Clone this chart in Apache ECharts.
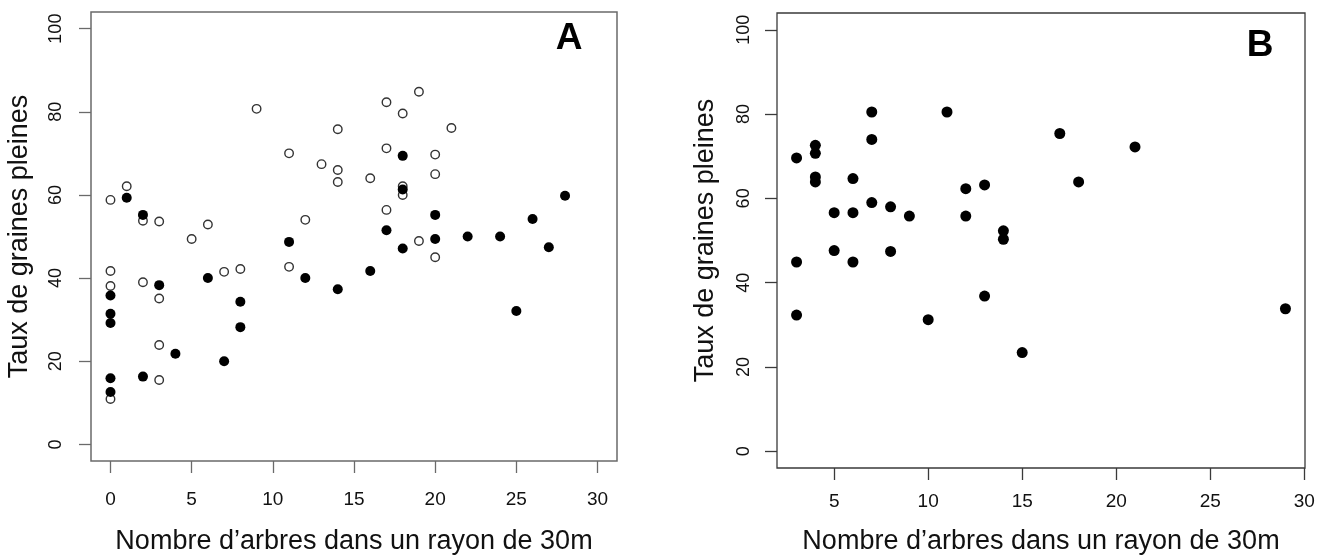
<!DOCTYPE html>
<html>
<head>
<meta charset="utf-8">
<script src="https://cdn.jsdelivr.net/npm/echarts@6/dist/echarts.min.js"></script>
<style>
  html, body { margin: 0; padding: 0; background: #fff; }
  #chart { width: 1327px; height: 560px; }
</style>
</head>
<body>
<div id="chart"></div>
<script>
// Panel A: open circles
const aOpenX = [0, 0, 0, 0, 1, 2, 2, 3, 3, 3, 3, 5, 6, 7, 8, 9, 11, 11, 12, 13, 14, 14, 14, 16, 17, 17, 17, 18, 18, 18, 19, 19, 20, 20, 20, 21];
const aOpenY = [58.8, 41.7, 38.1, 10.9, 62.1, 53.8, 39.0, 53.6, 35.1, 23.9, 15.5, 49.4, 52.9, 41.5, 42.2, 80.7, 70.0, 42.7, 54.0, 67.4, 75.8, 66.0, 63.1, 64.0, 82.3, 71.2, 56.4, 79.6, 62.1, 60.0, 84.8, 48.9, 69.7, 65.0, 45.0, 76.1];
// Panel A: filled circles
const aFilledX = [0, 0, 0, 0, 0, 1, 2, 2, 3, 4, 6, 7, 8, 8, 11, 12, 14, 16, 17, 18, 18, 18, 20, 20, 22, 24, 25, 26, 27, 28];
const aFilledY = [35.8, 31.4, 29.2, 15.9, 12.6, 59.3, 55.2, 16.3, 38.3, 21.8, 40.0, 20.0, 34.3, 28.2, 48.7, 40.0, 37.3, 41.7, 51.5, 69.4, 61.3, 47.1, 55.2, 49.4, 50.0, 50.0, 32.1, 54.2, 47.4, 59.8];
// Panel B: filled circles
const bX = [3, 3, 3, 4, 4, 4, 4, 5, 5, 6, 6, 6, 7, 7, 7, 8, 8, 9, 10, 11, 12, 12, 13, 13, 14, 14, 15, 17, 18, 21, 29];
const bY = [69.6, 44.9, 32.3, 72.6, 70.7, 65.1, 63.9, 56.6, 47.6, 64.7, 56.6, 44.9, 80.5, 74.0, 59.0, 58.0, 47.4, 55.8, 31.2, 80.5, 62.3, 55.8, 63.2, 36.8, 52.3, 50.3, 23.4, 75.4, 63.9, 72.2, 33.8];

// Tick labels
const aXTicks = [0, 5, 10, 15, 20, 25, 30];
const bXTicks = [5, 10, 15, 20, 25, 30];
const yTicks = [0, 20, 40, 60, 80, 100];

const xTitle = 'Nombre d\u2019arbres dans un rayon de 30m';
const yTitle = 'Taux de graines pleines';

const FONT = "'Liberation Sans', Arial, sans-serif";
const pairs = (xs, ys) => xs.map((x, i) => [x, ys[i]]);

function xAxisCfg(gridIndex, min, max, ticks, color, tickLen, margin, nameGap) {
  return {
    type: 'value', gridIndex, min, max, position: 'bottom',
    axisLine: { show: false, onZero: false },
    splitLine: { show: false },
    axisTick: { show: true, inside: false, customValues: ticks, length: tickLen, lineStyle: { color, width: 1.3 } },
    axisLabel: { customValues: ticks, margin, color: '#111', fontSize: 19, fontFamily: FONT },
    name: xTitle, nameLocation: 'middle', nameGap,
    nameTextStyle: { fontSize: 27, color: '#111', fontFamily: FONT }
  };
}
function yAxisCfg(gridIndex, color, tickLen, margin, nameGap) {
  return {
    type: 'value', gridIndex, min: -4, max: 104, position: 'left',
    axisLine: { show: false, onZero: false },
    splitLine: { show: false },
    axisTick: { show: true, inside: false, customValues: yTicks, length: tickLen, lineStyle: { color, width: 1.3 } },
    axisLabel: { customValues: yTicks, rotate: 90, margin, color: '#111', fontSize: 18, fontFamily: FONT },
    name: yTitle, nameLocation: 'middle', nameRotate: 90, nameGap,
    nameTextStyle: { fontSize: 27, color: '#111', fontFamily: FONT }
  };
}

const chart = echarts.init(document.getElementById('chart'), null, { renderer: 'canvas' });
chart.setOption({
  animation: false,
  backgroundColor: '#fff',
  grid: [
    { left: 91, top: 12, width: 526, height: 449, show: true, borderColor: '#6a6a6a', borderWidth: 1.5, backgroundColor: 'transparent' },
    { left: 777, top: 13, width: 528, height: 457, show: true, borderColor: '#3a3a3a', borderWidth: 1.3, backgroundColor: 'transparent' }
  ],
  xAxis: [
    xAxisCfg(0, -1.2, 31.2, aXTicks, '#6a6a6a', 12, 29, 67),
    xAxisCfg(1, 1.96, 30.04, bXTicks, '#3a3a3a', 12, 24, 60)
  ],
  yAxis: [
    yAxisCfg(0, '#6a6a6a', 12, 26, 58),
    yAxisCfg(1, '#3a3a3a', 12, 24, 58)
  ],
  graphic: [
    { type: 'text', style: { x: 569, y: 39, text: 'A', font: "bold 37px 'Liberation Sans', Arial, sans-serif", fill: '#000', align: 'center', verticalAlign: 'middle' } },
    { type: 'text', style: { x: 1260, y: 46, text: 'B', font: "bold 37px 'Liberation Sans', Arial, sans-serif", fill: '#000', align: 'center', verticalAlign: 'middle' } }
  ],
  series: [
    {
      type: 'scatter', xAxisIndex: 0, yAxisIndex: 0,
      data: pairs(aOpenX, aOpenY),
      symbol: 'circle', symbolSize: 8.5,
      itemStyle: { color: 'rgba(0,0,0,0)', borderColor: '#333', borderWidth: 1.4, opacity: 1 },
      silent: true, z: 2
    },
    {
      type: 'scatter', xAxisIndex: 0, yAxisIndex: 0,
      data: pairs(aFilledX, aFilledY),
      symbol: 'circle', symbolSize: 10,
      itemStyle: { color: '#000', opacity: 1 },
      silent: true, z: 3
    },
    {
      type: 'scatter', xAxisIndex: 1, yAxisIndex: 1,
      data: pairs(bX, bY),
      symbol: 'circle', symbolSize: 11,
      itemStyle: { color: '#000', opacity: 1 },
      silent: true, z: 3
    }
  ]
});
</script>
</body>
</html>
